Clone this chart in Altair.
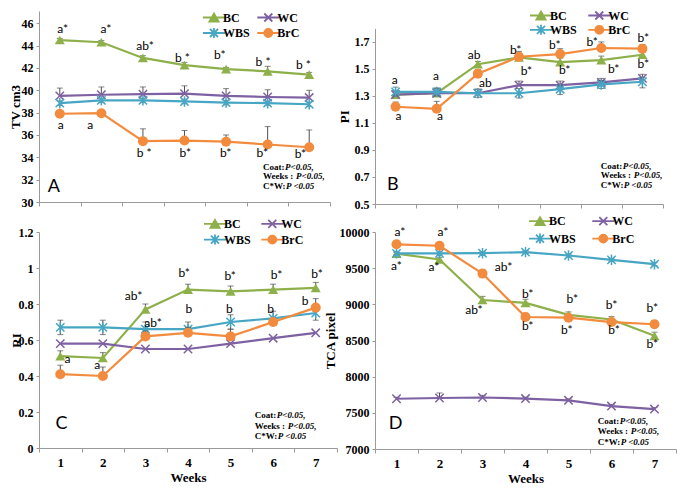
import altair as alt
import pandas as pd

# ---------------- data ----------------
series = ["BC", "WC", "WBS", "BrC"]
colors = ["#8DB04A", "#7E61A2", "#46A6C4", "#F28B3D"]
weeks = [1, 2, 3, 4, 5, 6, 7]

# Panel A: TV cm3
tv_bc = [44.5, 44.3, 42.9, 42.25, 41.9, 41.7, 41.4]
tv_wc = [39.5, 39.6, 39.65, 39.7, 39.5, 39.4, 39.35]
tv_wbs = [38.85, 39.1, 39.1, 39.0, 38.9, 38.85, 38.75]
tv_brc = [37.9, 37.95, 35.45, 35.5, 35.4, 35.15, 34.9]
tv_err_hi = [[0.15, 0.15, 0.2, 0.25, 0.15, 0.45, 0.2],
             [0.7, 0.7, 0.65, 0.7, 0.65, 0.65, 0.65],
             [0.2, 0.2, 0.2, 0.2, 0.2, 0.2, 0.2],
             [0.1, 0.1, 1.1, 0.9, 0.6, 1.6, 1.55]]
tv_err_lo = [[0, 0, 0, 0, 0, 0, 0],
             [0, 0, 0, 0, 0, 0, 0],
             [0.2, 0.2, 0.2, 0.2, 0.2, 0.2, 0.2],
             [0, 0, 0, 0, 0, 0, 0]]

# Panel B: PI
pi_bc = [1.31, 1.32, 1.535, 1.585, 1.55, 1.565, 1.605]
pi_wc = [1.31, 1.32, 1.32, 1.38, 1.38, 1.40, 1.43]
pi_wbs = [1.33, 1.33, 1.32, 1.32, 1.35, 1.385, 1.405]
pi_brc = [1.22, 1.205, 1.465, 1.59, 1.61, 1.655, 1.65]
pi_err_hi = [[0.02, 0.035, 0.02, 0.03, 0.03, 0.03, 0.02],
             [0.03, 0.03, 0.03, 0.03, 0.03, 0.03, 0.03],
             [0.035, 0.03, 0.03, 0.035, 0.03, 0.03, 0.03],
             [0.035, 0.055, 0.03, 0.04, 0.04, 0.045, 0.03]]
pi_err_lo = [[0, 0, 0, 0, 0, 0, 0],
             [0, 0, 0, 0, 0, 0, 0],
             [0.03, 0.03, 0.03, 0.035, 0.04, 0.03, 0.045],
             [0, 0, 0, 0, 0, 0, 0]]

# Panel C: RI
ri_bc = [0.51, 0.50, 0.77, 0.88, 0.87, 0.88, 0.89]
ri_wc = [0.58, 0.58, 0.55, 0.55, 0.58, 0.61, 0.64]
ri_wbs = [0.67, 0.67, 0.66, 0.66, 0.70, 0.72, 0.75]
ri_brc = [0.41, 0.40, 0.62, 0.64, 0.62, 0.70, 0.78]
ri_err_hi = [[0.03, 0.03, 0.03, 0.03, 0.03, 0.03, 0.03],
             [0, 0, 0, 0, 0, 0, 0],
             [0.04, 0.04, 0.04, 0.04, 0.04, 0.04, 0.04],
             [0.05, 0.05, 0.03, 0.03, 0.04, 0.02, 0.05]]
ri_err_lo = [[0, 0, 0, 0, 0, 0, 0],
             [0, 0, 0, 0, 0, 0, 0],
             [0.04, 0.04, 0.04, 0.04, 0.04, 0.04, 0.04],
             [0, 0, 0, 0, 0, 0, 0]]

# Panel D: TCA pixel
tca_bc = [9700, 9620, 9060, 9020, 8855, 8790, 8565]
tca_wc = [7695, 7705, 7712, 7697, 7673, 7594, 7552]
tca_wbs = [9705, 9705, 9707, 9722, 9675, 9615, 9555]
tca_brc = [9830, 9810, 9425, 8825, 8815, 8755, 8725]
tca_err_hi = [[20, 30, 50, 50, 40, 40, 50],
              [20, 70, 30, 20, 20, 20, 20],
              [20, 20, 20, 20, 20, 20, 20],
              [40, 40, 50, 50, 40, 40, 50]]
tca_err_lo = [[0, 0, 0, 0, 0, 0, 0],
              [0, 0, 0, 0, 0, 0, 0],
              [20, 20, 20, 20, 20, 20, 20],
              [0, 0, 0, 0, 0, 0, 0]]

# letter annotations
ann_a_text = ["a*", "a*", "ab*", "b *", "b*", "b *", "b *", "a", "a", "b *", "b*", "b*", "b*", "b*"]
ann_a_x = [1.07, 2.11, 3.05, 3.95, 4.85, 5.89, 6.86, 1.02, 1.73, 3.03, 4.02, 4.99, 5.87, 6.79]
ann_a_y = [45.5, 45.5, 44.0, 42.9, 43.2, 42.5, 42.3, 36.85, 36.85, 34.4, 34.4, 34.4, 34.4, 34.3]

ann_b_text = ["a", "a", "ab", "b*", "b*", "b*", "b*", "a", "a", "ab", "b*", "b*", "b*", "b*"]
ann_b_x = [0.98, 1.98, 2.91, 3.92, 4.87, 5.78, 7.02, 1.07, 2.08, 3.18, 4.18, 5.11, 6.30, 7.02]
ann_b_y = [1.42, 1.45, 1.60, 1.64, 1.68, 1.70, 1.727, 1.154, 1.154, 1.398, 1.487, 1.494, 1.499, 1.54]

ann_c_text = ["a", "a", "ab*", "ab*", "b*", "b", "b*", "b", "b*", "b", "b*", "b"]
ann_c_x = [1.17, 1.87, 2.72, 3.18, 3.91, 4.02, 4.99, 4.97, 6.08, 5.94, 7.03, 6.75]
ann_c_y = [0.494, 0.462, 0.847, 0.693, 0.974, 0.775, 0.956, 0.775, 0.961, 0.775, 0.965, 0.815]

ann_d_text = ["a*", "a*", "a*", "a*", "ab*", "ab*", "b*", "b*", "b*", "b*", "b*", "b*", "b*", "b*"]
ann_d_x = [1.08, 2.08, 1.0, 1.87, 3.49, 2.80, 4.05, 4.05, 5.09, 4.96, 6.0, 6.06, 6.95, 6.95]
ann_d_y = [9995, 9995, 9527, 9513, 9517, 8924, 9146, 8700, 9071, 8643, 8991, 8643, 8946, 8456]

# statistics text
stat_prefix = ["Coat:", "Weeks :", "C*W:"]
stat_value = ["P<0.05,", "P<0.05,", "P <0.05"]
stat_a = (5.89, [33.15, 32.34, 31.47])
stat_b = (5.99, [0.780, 0.713, 0.637])
stat_c = (5.57, [0.186, 0.123, 0.064])
stat_d = (5.68, [7384, 7250, 7103])

# panel letters
letters = ["A", "B", "C", "D"]
letter_pos = [(0.71, 31.33), (0.79, 0.637), (0.89, 0.132), (0.82, 7339)]

# ---------------- style ----------------
SERIF = "Liberation Serif"
SANS = "Lato"
AXIS_GRAY = "#9a9a9a"
ERR_GRAY = "#505050"
X_PATH = "M-1,-1L1,1M-1,1L1,-1"
AST_PATH = "M-1,-1L1,1M-1,1L1,-1M0,-1.25L0,1.25"
marker_shape = ["triangle-up", X_PATH, AST_PATH, "circle"]
marker_filled = [True, False, False, True]
marker_size = [100, 70, 70, 100]
LINE = "M-2.75,0L2.75,0"
legend_paths = [LINE + "M0,-1L1.15,1L-1.15,1Z",
                LINE + X_PATH,
                LINE + AST_PATH,
                LINE + "M1,0A1,1,0,1,1,-1,0A1,1,0,1,1,1,0Z"]
stat_dx = [22, 33, 23]


def make_panel(vals, ehi, elo, ydom, yrange, yticks, yfmt, ytitle, title_x,
               width, height, bottom, ann_text, ann_x, ann_y, stat, letter, lpos,
               leg_x, leg_y, leg_colpad, leg_rowpad):
    rows, caps = [], []
    for s, v, h, l in zip(series, vals, ehi, elo):
        for w, val, hh, ll in zip(weeks, v, h, l):
            rows.append({"series": s, "week": w, "value": val, "hi": val + hh, "lo": val - ll})
            if hh > 0:
                caps.append({"series": s, "week": w, "cap": val + hh})
            if ll > 0:
                caps.append({"series": s, "week": w, "cap": val - ll})
    df = pd.DataFrame(rows)
    cap_df = pd.DataFrame(caps)

    xscale = alt.Scale(domain=[0.5, 7.5], nice=False, zero=False)
    ykw = dict(domain=ydom, nice=False, zero=False)
    if yrange:
        ykw["range"] = yrange
    yscale = alt.Scale(**ykw)

    xkw = dict(values=[i + 0.5 for i in range(8)], grid=False, domainColor=AXIS_GRAY,
               tickColor=AXIS_GRAY, tickSize=4, labels=bottom)
    if bottom:
        xkw.update(labelExpr="datum.value > 1 ? format(datum.value - 0.5, 'd') : ''",
                   labelOffset=-width / 14, labelFlush=False, labelOverlap=False,
                   labelFont=SERIF, labelFontWeight="bold", labelFontSize=13,
                   labelColor="black", labelPadding=4, title="Weeks", titleFont=SERIF,
                   titleFontWeight="bold", titleFontSize=13, titleColor="black",
                   titlePadding=2)
    else:
        xkw.update(title=None)
    xaxis = alt.Axis(**xkw)
    yaxis = alt.Axis(values=yticks, format=yfmt, grid=False, domainColor=AXIS_GRAY,
                     tickColor=AXIS_GRAY, tickSize=3, labelPadding=3, labelFont=SERIF,
                     labelFontWeight="bold", labelFontSize=12, labelColor="black",
                     title=ytitle, titleFont=SERIF, titleFontWeight="bold",
                     titleFontSize=13, titleColor="black", titleX=title_x,
                     titleBaseline="middle")

    X = alt.X("week:Q", scale=xscale, axis=xaxis)
    Y = alt.Y("value:Q", scale=yscale, axis=yaxis)

    layers = []
    for i, s in enumerate(series):
        d = df[df.series == s]
        c = cap_df[cap_df.series == s]
        layers.append(alt.Chart(d).mark_rule(color=ERR_GRAY, strokeWidth=1).encode(
            x=X, y=alt.Y("lo:Q", scale=yscale, axis=yaxis), y2="hi:Q"))
        layers.append(alt.Chart(c).mark_tick(orient="horizontal", size=6, thickness=1,
                                             color=ERR_GRAY).encode(
            x=X, y=alt.Y("cap:Q", scale=yscale, axis=yaxis)))
        layers.append(alt.Chart(d).mark_line(color=colors[i], strokeWidth=2.2).encode(x=X, y=Y))
        layers.append(alt.Chart(d).mark_point(shape=marker_shape[i], filled=marker_filled[i],
                                              size=marker_size[i], color=colors[i], opacity=1,
                                              strokeWidth=1.5).encode(x=X, y=Y))

    ann_df = pd.DataFrame({"week": ann_x, "value": ann_y, "label": ann_text})
    layers.append(alt.Chart(ann_df).mark_text(font=SANS, fontSize=12, color="black").encode(
        x=X, y=Y, text="label:N"))

    sx, sy = stat
    st_df = pd.DataFrame({"week": [sx] * 3, "value": sy, "label": stat_prefix})
    layers.append(alt.Chart(st_df).mark_text(align="left", font=SERIF, fontWeight="bold",
                                             fontSize=9, color="black").encode(
        x=X, y=Y, text="label:N"))
    for j in range(3):
        vdf = pd.DataFrame({"week": [sx], "value": [sy[j]], "label": [stat_value[j]]})
        layers.append(alt.Chart(vdf).mark_text(align="left", dx=stat_dx[j], font=SERIF,
                                               fontWeight="bold", fontStyle="italic",
                                               fontSize=9, color="black").encode(
            x=X, y=Y, text="label:N"))

    let_df = pd.DataFrame({"week": [lpos[0]], "value": [lpos[1]], "label": [letter]})
    layers.append(alt.Chart(let_df).mark_text(align="left", font=SANS, fontSize=18,
                                              color="black").encode(x=X, y=Y, text="label:N"))

    leg = alt.Legend(orient="none", legendX=leg_x, legendY=leg_y, columns=2,
                     direction="horizontal", columnPadding=leg_colpad,
                     rowPadding=leg_rowpad, symbolSize=64,
                     symbolStrokeWidth=1.8, labelFont=SERIF, labelFontWeight="bold",
                     labelFontSize=12, labelColor="black", labelOffset=3, padding=0,
                     title=None)
    leg_df = pd.DataFrame({"series": series, "week": [4] * 4, "value": [ydom[0] - 1e6] * 4})
    layers.append(alt.Chart(leg_df).mark_point(filled=True, clip=True, strokeWidth=1.8,
                                               opacity=1).encode(
        x=X, y=Y,
        shape=alt.Shape("series:N", scale=alt.Scale(domain=series, range=legend_paths), legend=leg),
        fill=alt.Fill("series:N", scale=alt.Scale(domain=series, range=colors), legend=leg),
        stroke=alt.Stroke("series:N", scale=alt.Scale(domain=series, range=colors), legend=leg),
    ))
    return alt.layer(*layers).properties(width=width, height=height)


pA = make_panel([tv_bc, tv_wc, tv_wbs, tv_brc], tv_err_hi, tv_err_lo, [30, 47.1], None,
                [30, 32, 34, 36, 38, 40, 42, 44, 46], "d", "TV cm3", -24, 291, 191, False,
                ann_a_text, ann_a_x, ann_a_y, stat_a, letters[0], letter_pos[0],
                169, 0.3, 3.3, -1.3)
pB = make_panel([pi_bc, pi_wc, pi_wbs, pi_brc], pi_err_hi, pi_err_lo, [0.5, 1.8], [193, 17.4],
                [0.5, 0.7, 0.9, 1.1, 1.3, 1.5, 1.7], ".1f", "PI", -31, 288, 193, False,
                ann_b_text, ann_b_x, ann_b_y, stat_b, letters[1], letter_pos[1],
                160, -1.7, 7.3, -2.5)
pC = make_panel([ri_bc, ri_wc, ri_wbs, ri_brc], ri_err_hi, ri_err_lo, [0, 1.2], None,
                [0, 0.2, 0.4, 0.6, 0.8, 1.0, 1.2], "~g", "RI", -23, 298, 216, True,
                ann_c_text, ann_c_x, ann_c_y, stat_c, letters[2], letter_pos[2],
                170, -14.3, 6.3, -1.1)
pD = make_panel([tca_bc, tca_wc, tca_wbs, tca_brc], tca_err_hi, tca_err_lo, [7000, 10000], None,
                [7000, 7500, 8000, 8500, 9000, 9500, 10000], "d", "TCA pixel", -45, 301, 217, True,
                ann_d_text, ann_d_x, ann_d_y, stat_d, letters[3], letter_pos[3],
                159, -17, 12.3, 0.6)

chart = alt.concat(pA, pB, pC, pD, columns=2, spacing={"row": 28, "column": 38},
                   bounds="flush", padding=0).resolve_scale(
    x="independent", y="independent", fill="independent", stroke="independent",
    shape="independent").configure_view(stroke="transparent")

chart.save("out.html", embed_options={"renderer": "svg", "actions": False})
